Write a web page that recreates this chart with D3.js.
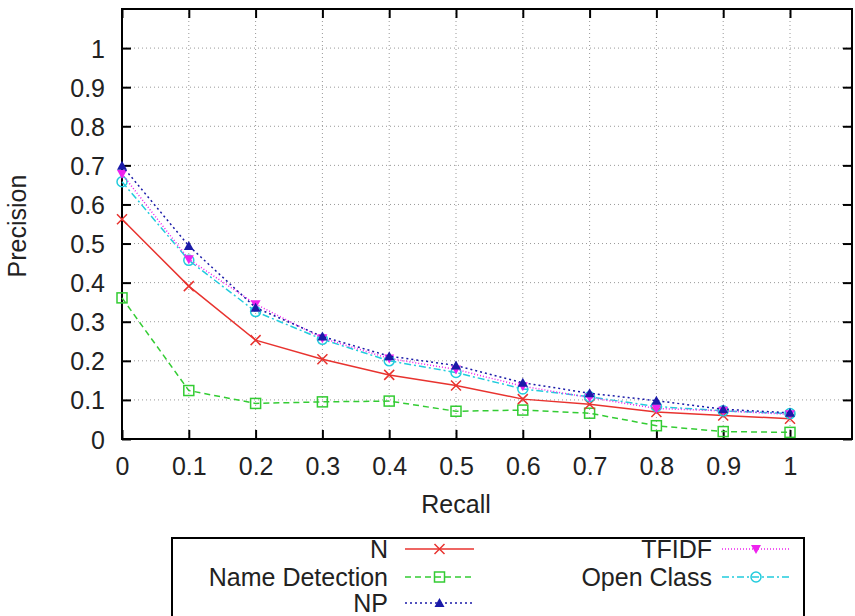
<!DOCTYPE html>
<html><head><meta charset="utf-8">
<script src="https://cdn.jsdelivr.net/npm/d3@7"></script>
<style>body{margin:0;background:#fff}svg{display:block}text{font-family:"Liberation Sans",Arial,sans-serif;fill:#222}</style>
</head><body><svg id="c" width="855" height="616"></svg>
<script>
const recall = [0,0.1,0.2,0.3,0.4,0.5,0.6,0.7,0.8,0.9,1];
const seriesN = [0.562,0.391,0.253,0.204,0.164,0.137,0.102,0.089,0.069,0.060,0.052];
const seriesName = [0.361,0.124,0.091,0.095,0.097,0.071,0.074,0.066,0.034,0.019,0.017];
const seriesNP = [0.699,0.494,0.336,0.262,0.212,0.188,0.144,0.117,0.098,0.076,0.067];
const seriesTFIDF = [0.678,0.460,0.345,0.258,0.206,0.178,0.135,0.106,0.078,0.072,0.063];
const seriesOpen = [0.658,0.457,0.326,0.255,0.200,0.170,0.128,0.108,0.083,0.072,0.065];
const xTicks = [0,0.1,0.2,0.3,0.4,0.5,0.6,0.7,0.8,0.9,1];
const yTicks = [0,0.1,0.2,0.3,0.4,0.5,0.6,0.7,0.8,0.9,1];
const names = ["N","Name Detection","NP","TFIDF","Open Class"];
const colors = ["#e8332f","#33cc33","#1a1aa8","#ee22ee","#22ccdd"];

const svg = d3.select("#c");
const L=122,R=852,T=9,B=439;
const x = d3.scaleLinear().domain([0,1]).range([L,790]);
const y = d3.scaleLinear().domain([0,1.1]).range([B,T]);
const fs = "25px";

// grid
const g = svg.append("g");
g.selectAll(".vg").data(xTicks.slice(1)).enter().append("line")
 .attr("x1",d=>x(d)).attr("x2",d=>x(d)).attr("y1",T).attr("y2",B)
 .attr("stroke","#999").attr("stroke-width",1).attr("stroke-dasharray","1,3");
g.selectAll(".hg").data(yTicks.slice(1)).enter().append("line")
 .attr("x1",L).attr("x2",R).attr("y1",d=>y(d)).attr("y2",d=>y(d))
 .attr("stroke","#999").attr("stroke-width",1).attr("stroke-dasharray","1,3");

// axes
const ax = svg.append("g").attr("transform",`translate(0,${B})`).call(d3.axisBottom(x).tickValues(xTicks).tickFormat(d3.format("~g")).tickSizeInner(-9).tickSizeOuter(0).tickPadding(0));
const ay = svg.append("g").attr("transform",`translate(${L},0)`).call(d3.axisLeft(y).tickValues(yTicks).tickFormat(d3.format("~g")).tickSizeInner(-9).tickSizeOuter(0).tickPadding(0));
const axt = svg.append("g").attr("transform",`translate(0,${T})`).call(d3.axisTop(x).tickValues(xTicks).tickFormat("").tickSizeInner(-9).tickSizeOuter(0));
const ayr = svg.append("g").attr("transform",`translate(${R},0)`).call(d3.axisRight(y).tickValues(yTicks).tickFormat("").tickSizeInner(-9).tickSizeOuter(0));
[ax,ay,axt,ayr].forEach(a=>{a.select(".domain").remove();a.selectAll("line").attr("stroke","#000").attr("stroke-width",2);a.selectAll("text").style("font-size",fs).attr("fill","#222");});
ax.selectAll("text").attr("x",0).attr("y",36).attr("dy",null);
ay.selectAll("text").attr("x",-17).attr("y",0).attr("dy","0.36em");
svg.append("rect").attr("x",L).attr("y",T).attr("width",R-L).attr("height",B-T).attr("fill","none").attr("stroke","#000").attr("stroke-width",2);

function stxt(parent,tx,ty,str,anchor,rot){
  return parent.append("text").attr("transform",`translate(${tx},${ty})${rot?" rotate(-90)":""}`)
   .attr("text-anchor",anchor).attr("dy","0.36em").style("font-size",fs).text(str);
}
stxt(svg,x(0.5),504,"Recall","middle");
stxt(svg,17,226,"Precision","middle",true);

const dashes = [null,"6,4","2,3","1,2","7,3,2,3"];
const data = [seriesN,seriesName,seriesNP,seriesTFIDF,seriesOpen];
const line = d3.line().x((d,i)=>x(recall[i])).y(d=>y(d));

function marker(sel,k,cx,cy){
  const c=colors[k];
  if(k===0){
    sel.append("path").attr("d",`M${cx-5},${cy-5}L${cx+5},${cy+5}M${cx-5},${cy+5}L${cx+5},${cy-5}`).attr("stroke",c).attr("stroke-width",1.5);
  } else if(k===1){
    sel.append("rect").attr("x",cx-5).attr("y",cy-5).attr("width",10).attr("height",10).attr("fill","none").attr("stroke",c).attr("stroke-width",1.5);
  } else if(k===2){
    sel.append("path").attr("d",`M${cx},${cy-5}L${cx+5},${cy+4}L${cx-5},${cy+4}Z`).attr("fill",c);
  } else if(k===3){
    sel.append("path").attr("d",`M${cx},${cy+5}L${cx+5},${cy-4}L${cx-5},${cy-4}Z`).attr("fill",c);
  } else {
    sel.append("circle").attr("cx",cx).attr("cy",cy).attr("r",5).attr("fill","none").attr("stroke",c).attr("stroke-width",1.5);
  }
}

const order=[1,0,4,3,2];
order.forEach(k=>{
  const gg=svg.append("g");
  gg.append("path").datum(data[k]).attr("d",line).attr("fill","none").attr("stroke",colors[k]).attr("stroke-width",1.5).attr("stroke-dasharray",dashes[k]);
  data[k].forEach((v,i)=>marker(gg,k,x(recall[i]),y(v)));
});

// legend
const lg = svg.append("g");
lg.append("rect").attr("x",172).attr("y",538).attr("width",632).attr("height",90).attr("fill","#fff").attr("stroke","#000").attr("stroke-width",2);
const pos = [[388,405,474,549],[388,405,474,577],[388,405,474,603],[712,722,790,549],[712,722,790,577]];
names.forEach((n,k)=>{
  const [tx,x1,x2,yy]=pos[k];
  stxt(lg,tx,yy,n,"end");
  lg.append("line").attr("x1",x1).attr("x2",x2).attr("y1",yy).attr("y2",yy).attr("stroke",colors[k]).attr("stroke-width",1.5).attr("stroke-dasharray",dashes[k]);
  marker(lg,k,(x1+x2)/2,yy);
});
</script></body></html>
